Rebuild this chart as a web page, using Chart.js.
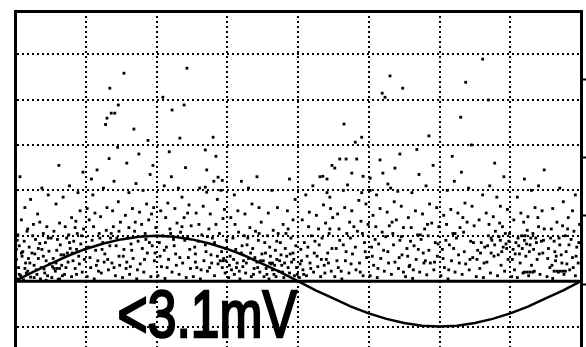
<!DOCTYPE html>
<html>
<head>
    <meta charset="utf-8">
    <title>Scope trace</title>
    <script src="https://cdn.jsdelivr.net/npm/chart.js"></script>
    <style>
        html, body { margin: 0; padding: 0; background: #fff; overflow: hidden; }
        canvas { display: block; }
    </style>
</head>
<body>
    <canvas id="scopeChart" width="586" height="376"></canvas>

    <script>
        // screen is 8 x divisions, y in divisions above the zero line
        const xDivs = [0, 8];
        const yDivs = [-2, 5.95];

        // reference sine trace, read every quarter division
        const sineX = [0, 0.25, 0.5, 0.75, 1, 1.25, 1.5, 1.75, 2, 2.25, 2.5, 2.75, 3, 3.25, 3.5, 3.75, 4,
                       4.25, 4.5, 4.75, 5, 5.25, 5.5, 5.75, 6, 6.25, 6.5, 6.75, 7, 7.25, 7.5, 7.75, 8];
        const sineY = [0, 0.2, 0.38, 0.56, 0.71, 0.83, 0.92, 0.98, 1, 0.98, 0.92, 0.83, 0.71, 0.56, 0.38, 0.2, 0,
                       -0.2, -0.38, -0.56, -0.71, -0.83, -0.92, -0.98, -1, -0.98, -0.92, -0.83, -0.71, -0.56, -0.38, -0.2, 0];

        // little marks on the right edge
        const rightMarks = [4.45, 2.73, 1.45, -0.07];

        const readout = '<3.1mV';
        const readoutAt = [1.45, -1.23];

        // noise dots [x, y]
        const noisePts = [
            [0.03,0.05],[0.08,0.12],[0.12,0.03],[0.18,0.22],[0.05,0.30],[0.22,0.09],[0.27,0.35],[0.31,0.15],[0.36,0.05],[0.41,0.27],
            [0.46,0.12],[0.02,0.48],[0.10,0.55],[0.15,0.40],[0.24,0.62],[0.33,0.50],[0.38,0.70],[0.44,0.45],[0.06,0.78],[0.13,0.88],
            [0.20,0.75],[0.29,0.92],[0.35,0.83],[0.48,0.66],[0.04,1.02],[0.17,1.10],[0.26,1.25],[0.40,1.05],[0.09,1.35],[0.32,1.48],
            [0.45,1.20],[0.14,1.62],[0.22,1.80],[0.38,2.05],[0.07,2.30],[0.47,1.90],[0.01,0.20],[0.19,0.50],[0.30,0.25],[0.43,0.85],
            [0.11,0.65],[0.25,1.00],[0.37,0.30],[0.49,0.38],[0.03,0.90],[0.16,0.18],[0.28,0.60],[0.40,0.55],
            [0.52,0.08],[0.57,0.22],[0.61,0.04],[0.66,0.35],[0.70,0.15],[0.75,0.42],[0.80,0.10],[0.85,0.28],[0.90,0.55],[0.95,0.20],
            [0.99,0.70],[0.54,0.50],[0.59,0.68],[0.64,0.80],[0.69,0.58],[0.73,0.95],[0.78,0.72],[0.83,0.88],[0.88,1.05],[0.93,0.82],
            [0.97,1.15],[0.55,1.10],[0.63,1.28],[0.71,1.20],[0.80,1.40],[0.86,1.32],[0.92,1.55],[0.58,1.70],[0.68,1.85],[0.77,2.10],
            [0.89,1.95],[0.96,2.40],[0.62,2.55],[0.53,0.32],[0.67,0.12],[0.74,0.62],[0.82,0.45],[0.91,0.38],[0.98,0.48],[0.60,0.92],
            [0.76,1.02],[0.87,0.70],
            [1.02,0.10],[1.07,0.30],[1.12,0.05],[1.17,0.45],[1.22,0.18],[1.27,0.60],[1.32,0.25],[1.37,0.40],[1.42,0.12],[1.47,0.55],
            [1.04,0.75],[1.09,0.90],[1.14,0.68],[1.19,1.05],[1.24,0.85],[1.29,1.12],[1.34,0.78],[1.39,1.20],[1.44,0.95],[1.49,1.30],
            [1.05,1.35],[1.13,1.50],[1.21,1.42],[1.30,1.62],[1.38,1.55],[1.46,1.75],[1.10,1.90],[1.25,2.05],[1.40,2.20],[1.16,2.45],
            [1.33,2.70],[1.45,2.95],[1.28,3.45],[1.36,3.70],[1.08,2.25],[1.18,0.22],[1.35,0.95],[1.48,0.35],[1.02,1.60],[1.26,0.42],
            [1.34,4.25],[1.46,3.88],[1.41,3.70],[1.30,3.59],[1.54,4.58],
            [1.52,0.08],[1.57,0.28],[1.62,0.15],[1.67,0.50],[1.72,0.05],[1.77,0.38],[1.82,0.20],[1.87,0.62],[1.92,0.10],[1.97,0.45],
            [1.54,0.70],[1.59,0.95],[1.64,0.82],[1.69,1.10],[1.74,0.88],[1.79,1.25],[1.84,1.05],[1.89,1.35],[1.94,0.78],[1.99,1.18],
            [1.56,1.45],[1.66,1.60],[1.76,1.52],[1.86,1.70],[1.96,1.62],[1.61,1.95],[1.71,2.15],[1.81,2.00],[1.91,2.35],[1.58,2.60],
            [1.75,2.80],[1.88,3.10],[1.68,3.35],[1.95,2.55],[1.53,0.55],[1.80,0.72],[1.63,0.32],
            [2.02,0.12],[2.07,0.32],[2.12,0.06],[2.17,0.48],[2.22,0.20],[2.27,0.60],[2.32,0.15],[2.37,0.40],[2.42,0.08],[2.47,0.70],
            [2.04,0.85],[2.09,1.00],[2.14,0.75],[2.19,1.15],[2.24,0.92],[2.29,1.28],[2.34,1.08],[2.39,1.40],[2.44,0.98],[2.49,1.22],
            [2.06,1.55],[2.16,1.72],[2.26,1.60],[2.36,1.85],[2.46,1.68],[2.11,2.10],[2.21,2.30],[2.31,2.05],[2.41,2.50],[2.18,2.85],
            [2.33,3.15],[2.09,4.05],[2.22,3.77],[2.39,3.88],[2.43,4.69],[2.28,0.35],[2.45,0.52],[2.13,1.40],
            [2.52,0.10],[2.57,0.30],[2.62,0.05],[2.67,0.45],[2.72,0.22],[2.77,0.58],[2.82,0.12],[2.87,0.38],[2.92,0.65],[2.97,0.18],
            [2.54,0.75],[2.59,0.88],[2.64,1.02],[2.69,0.80],[2.74,1.15],[2.79,0.95],[2.84,1.25],[2.89,1.05],[2.94,1.38],[2.99,0.90],
            [2.56,1.50],[2.66,1.65],[2.76,1.48],[2.86,1.80],[2.96,1.58],[2.61,2.05],[2.81,2.20],[2.71,2.45],[2.91,2.00],[2.55,0.42],
            [2.75,0.30],[2.95,0.50],[2.69,2.89],[2.80,3.17],[2.84,2.75],[2.87,2.29],[2.93,2.22],[2.69,2.07],[2.71,1.96],
            [3.02,0.08],[3.06,0.25],[3.10,0.15],[3.14,0.40],[3.18,0.05],[3.22,0.32],[3.26,0.18],[3.30,0.50],[3.34,0.10],[3.38,0.28],
            [3.42,0.42],[3.46,0.20],[3.49,0.60],[3.04,0.55],[3.12,0.70],[3.20,0.62],[3.28,0.80],[3.36,0.72],[3.44,0.90],[3.08,0.95],
            [3.16,1.08],[3.24,1.00],[3.32,1.18],[3.40,1.10],[3.48,1.30],[3.05,1.40],[3.15,1.55],[3.25,1.48],[3.35,1.70],[3.45,1.62],
            [3.10,1.90],[3.30,2.05],[3.42,2.30],[3.20,2.20],[3.13,0.30],[3.39,0.52],[3.23,0.45],
            [3.52,0.10],[3.55,0.28],[3.59,0.05],[3.62,0.38],[3.66,0.15],[3.70,0.48],[3.73,0.22],[3.77,0.35],[3.80,0.08],[3.84,0.55],
            [3.88,0.18],[3.91,0.42],[3.95,0.12],[3.98,0.30],[3.54,0.62],[3.60,0.75],[3.68,0.68],[3.75,0.85],[3.82,0.72],[3.90,0.95],
            [3.97,0.78],[3.57,1.00],[3.65,1.12],[3.72,1.05],[3.79,1.25],[3.86,1.15],[3.93,1.35],[3.58,1.50],[3.71,1.62],[3.85,1.55],
            [3.96,1.80],[3.63,2.00],[3.88,2.25],[3.76,0.58],[3.64,0.25],[3.93,0.62],
            [4.02,0.08],[4.07,0.25],[4.12,0.12],[4.17,0.40],[4.22,0.20],[4.27,0.55],[4.32,0.10],[4.37,0.35],[4.42,0.62],[4.47,0.22],
            [4.04,0.70],[4.09,0.85],[4.14,0.75],[4.19,1.00],[4.24,0.88],[4.29,1.15],[4.34,0.95],[4.39,1.28],[4.44,1.05],[4.49,1.40],
            [4.06,1.35],[4.16,1.52],[4.26,1.45],[4.36,1.68],[4.46,1.60],[4.11,1.90],[4.21,2.10],[4.31,2.30],[4.41,1.95],[4.48,2.55],
            [4.05,0.45],[4.40,0.48],[4.35,2.31],[4.41,2.25],[4.45,1.85],
            [4.52,0.10],[4.57,0.30],[4.62,0.05],[4.67,0.45],[4.72,0.18],[4.77,0.60],[4.82,0.25],[4.87,0.40],[4.92,0.12],[4.97,0.52],
            [4.54,0.72],[4.59,0.90],[4.64,0.80],[4.69,1.05],[4.74,0.95],[4.79,1.20],[4.84,1.10],[4.89,1.32],[4.94,0.85],[4.99,1.25],
            [4.56,1.48],[4.66,1.62],[4.76,1.55],[4.86,1.78],[4.96,1.70],[4.52,2.49],[4.59,2.69],[4.68,2.69],[4.83,2.69],[4.65,3.46],
            [4.81,3.06],[4.90,3.17],[4.92,2.31],[4.76,2.38],[4.70,2.12],[4.90,1.95],[4.64,2.00],
            [5.02,0.12],[5.07,0.35],[5.12,0.08],[5.17,0.50],[5.22,0.22],[5.27,0.65],[5.32,0.15],[5.37,0.42],[5.42,0.28],[5.47,0.58],
            [5.04,0.75],[5.09,0.92],[5.14,0.82],[5.19,1.08],[5.24,0.98],[5.29,1.22],[5.34,1.05],[5.39,1.35],[5.44,0.90],[5.49,1.18],
            [5.06,1.45],[5.16,1.60],[5.26,1.52],[5.36,1.75],[5.46,1.65],[5.11,1.90],[5.31,2.05],[5.41,1.98],[5.16,2.67],[5.19,4.14],
            [5.23,4.05],[5.20,2.38],[5.27,2.14],[5.02,2.27],[5.30,4.52],[5.37,2.49],[5.48,4.25],[5.44,2.80],[5.02,2.00],
            [5.52,0.10],[5.57,0.32],[5.62,0.06],[5.67,0.48],[5.72,0.20],[5.77,0.62],[5.82,0.14],[5.87,0.40],[5.92,0.25],[5.97,0.55],
            [5.54,0.72],[5.59,0.88],[5.64,0.78],[5.69,1.02],[5.74,0.92],[5.79,1.15],[5.84,1.00],[5.89,1.28],[5.94,0.85],[5.99,1.20],
            [5.56,1.40],[5.66,1.55],[5.76,1.48],[5.86,1.70],[5.96,1.62],[5.61,1.95],[5.81,2.10],[5.71,2.35],[5.91,2.55],[5.68,2.90],
            [5.85,3.20],[5.58,0.35],[5.80,0.45],
            [6.02,0.12],[6.07,0.30],[6.12,0.05],[6.17,0.45],[6.22,0.20],[6.27,0.58],[6.32,0.15],[6.37,0.38],[6.42,0.25],[6.47,0.52],
            [6.04,0.70],[6.09,0.90],[6.14,0.80],[6.19,1.05],[6.24,0.95],[6.29,1.18],[6.34,1.08],[6.39,1.30],[6.44,0.88],[6.49,1.22],
            [6.06,1.45],[6.16,1.58],[6.26,1.50],[6.36,1.72],[6.46,1.65],[6.11,2.00],[6.21,2.20],[6.31,2.40],[6.41,2.05],[6.30,3.61],
            [6.37,4.38],[6.18,2.75],[6.45,3.00],
            [6.52,0.10],[6.57,0.28],[6.62,0.08],[6.67,0.42],[6.72,0.18],[6.77,0.55],[6.82,0.12],[6.87,0.35],[6.92,0.22],[6.97,0.48],
            [6.54,0.68],[6.59,0.85],[6.64,0.75],[6.69,1.00],[6.74,0.90],[6.79,1.10],[6.84,0.98],[6.89,1.20],[6.94,0.82],[6.99,1.05],
            [6.56,1.35],[6.66,1.50],[6.76,1.42],[6.86,1.65],[6.96,1.58],[6.61,1.90],[6.71,2.10],[6.81,1.85],[6.91,2.30],[6.61,4.89],
            [6.69,3.99],[6.78,2.60],[6.88,0.65],[6.95,0.72],[6.73,0.62],
            [7.02,0.10],[7.06,0.25],[7.10,0.08],[7.14,0.40],[7.18,0.18],[7.22,0.55],[7.26,0.12],[7.30,0.35],[7.34,0.22],[7.38,0.48],
            [7.42,0.15],[7.46,0.62],[7.04,0.70],[7.08,0.85],[7.12,0.78],[7.16,1.00],[7.20,0.90],[7.24,1.12],[7.28,0.80],[7.32,1.05],
            [7.36,0.95],[7.40,1.20],[7.44,0.88],[7.48,1.15],[7.05,1.35],[7.15,1.50],[7.25,1.42],[7.35,1.62],[7.45,1.55],[7.10,1.85],
            [7.30,2.00],[7.20,2.25],[7.40,2.10],[7.48,2.45],[7.13,0.60],[7.27,0.65],
            [7.52,0.10],[7.56,0.30],[7.60,0.06],[7.64,0.45],[7.68,0.20],[7.72,0.58],[7.76,0.15],[7.80,0.38],[7.84,0.25],[7.88,0.52],
            [7.92,0.12],[7.96,0.40],[7.54,0.72],[7.62,0.88],[7.70,0.80],[7.78,1.00],[7.86,0.92],[7.94,0.75],[7.58,1.15],[7.66,1.30],
            [7.74,1.22],[7.82,1.40],[7.90,1.10],[7.98,1.25],[7.60,1.60],[7.75,1.75],[7.88,1.55],[7.70,2.05],[7.92,1.90],[7.65,0.55],
            // second, looser pass over the dense band
            [0.06,0.15],[0.14,0.28],[0.21,0.40],[0.09,0.62],[0.27,0.08],[0.33,0.72],[0.42,0.18],[0.47,0.95],[0.18,1.15],[0.02,0.70],
            [0.35,1.30],[0.44,0.02],[0.58,0.40],[0.65,0.58],[0.72,0.30],[0.81,0.62],[0.87,0.15],[0.94,1.00],[0.63,0.05],[0.77,0.85],
            [0.85,1.18],[0.51,0.95],[1.06,0.52],[1.15,0.35],[1.23,0.70],[1.31,0.48],[1.43,0.78],[1.11,1.20],[1.36,1.05],[1.47,1.10],
            [1.20,0.95],[1.40,0.30],[1.58,0.42],[1.65,0.68],[1.73,0.25],[1.83,0.48],[1.90,0.85],[1.98,0.62],[1.70,1.30],[1.85,0.92],
            [1.61,1.18],[1.93,1.48],[2.05,0.55],[2.15,0.30],[2.25,0.78],[2.33,0.52],[2.40,0.90],[2.48,0.28],[2.20,1.05],[2.36,1.20],
            [2.11,0.68],[2.44,1.50],[2.55,0.60],[2.63,0.25],[2.70,0.65],[2.78,0.40],[2.86,0.55],[2.93,0.30],[2.98,0.72],[2.60,1.25],
            [2.82,0.85],[2.72,0.98],[3.03,0.35],[3.09,0.48],[3.17,0.22],[3.21,0.78],[3.27,0.40],[3.33,0.62],[3.37,0.15],[3.43,0.30],
            [3.47,0.45],[3.11,1.25],[3.29,0.95],[3.45,1.05],[3.51,0.45],[3.56,0.15],[3.61,0.55],[3.67,0.35],[3.69,0.10],[3.74,0.45],
            [3.78,0.20],[3.81,0.40],[3.86,0.30],[3.89,0.60],[3.94,0.48],[3.99,0.15],[3.53,0.85],[3.83,1.05],[3.70,0.88],[4.03,0.38],
            [4.08,0.15],[4.13,0.55],[4.18,0.28],[4.23,0.62],[4.28,0.32],[4.33,0.48],[4.38,0.18],[4.43,0.40],[4.48,0.72],[4.15,1.20],
            [4.30,0.80],[4.45,1.15],[4.55,0.45],[4.61,0.22],[4.68,0.65],[4.75,0.38],[4.81,0.75],[4.88,0.20],[4.95,0.65],[4.58,1.15],
            [4.73,1.30],[4.91,1.05],[5.05,0.55],[5.13,0.28],[5.21,0.68],[5.28,0.40],[5.35,0.80],[5.43,0.52],[5.49,0.20],[5.10,1.20],
            [5.33,1.30],[5.46,0.98],[5.55,0.55],[5.63,0.25],[5.70,0.70],[5.78,0.40],[5.85,0.68],[5.93,0.42],[5.98,0.82],[5.60,1.18],
            [5.83,1.25],[5.73,1.02],[6.05,0.50],[6.13,0.25],[6.20,0.72],[6.28,0.40],[6.35,0.65],[6.43,0.48],[6.48,0.85],[6.10,1.25],
            [6.33,1.40],[6.22,1.05],[6.53,0.48],[6.58,0.62],[6.63,0.40],[6.68,0.78],[6.73,0.95],[6.78,0.80],[6.83,0.58],[6.86,0.90],
            [6.90,0.75],[6.93,1.05],[6.98,0.88],[6.70,1.25],[6.85,1.28],[7.03,0.48],[7.07,0.60],[7.11,0.95],[7.17,0.72],[7.21,1.00],
            [7.23,0.82],[7.29,0.95],[7.33,0.70],[7.37,0.85],[7.41,0.60],[7.47,0.90],[7.19,1.30],[7.39,1.40],[7.53,0.50],[7.59,0.35],
            [7.63,0.65],[7.69,0.95],[7.73,0.40],[7.79,0.65],[7.83,0.80],[7.89,0.30],[7.93,0.55],[7.97,0.85],[7.57,0.95],[7.81,1.15],
            // short streaks near the zero line
            [7.20,0.20],[7.24,0.20],[7.28,0.20],[7.32,0.20],[7.62,0.22],[7.66,0.22],[7.70,0.22],[7.74,0.22],[7.78,0.22],
            [0.55,0.28],[0.59,0.28],[0.63,0.28],[2.90,0.45],[2.94,0.45],[2.98,0.45],[3.60,0.40],[3.64,0.40]
        ];

        const sineData = sineX.map((x, i) => ({ x: x, y: sineY[i] }));
        const noiseData = noisePts.map(p => ({ x: p[0], y: p[1] }));
        const zeroLine = [{ x: xDivs[0], y: 0 }, { x: xDivs[1], y: 0 }];

        const readoutPlugin = {
            id: 'readout',
            afterDatasetsDraw(chart) {
                const ctx = chart.ctx;
                const px = chart.scales.x.getPixelForValue(readoutAt[0]);
                const py = chart.scales.y.getPixelForValue(readoutAt[1]);
                ctx.save();
                ctx.translate(px, py);
                ctx.scale(0.77, 1);
                ctx.font = '67px "Liberation Sans", Arial, sans-serif';
                ctx.fillStyle = '#000';
                ctx.strokeStyle = '#000';
                ctx.lineWidth = 2.5;
                ctx.textBaseline = 'alphabetic';
                ctx.fillText(readout, 0, 0);
                ctx.strokeText(readout, 0, 0);
                ctx.restore();
            }
        };

        const gridDots = {
            color: '#000',
            lineWidth: 2,
            drawTicks: false
        };

        const ctx = document.getElementById('scopeChart').getContext('2d');
        const chart = new Chart(ctx, {
            type: 'scatter',
            data: {
                datasets: [{
                    label: 'zero',
                    data: zeroLine,
                    showLine: true,
                    borderColor: '#000',
                    borderWidth: 3,
                    pointRadius: 0
                }, {
                    label: 'trace',
                    data: sineData,
                    showLine: true,
                    borderColor: '#000',
                    borderWidth: 2.5,
                    pointRadius: 0
                }, {
                    label: 'noise',
                    data: noiseData,
                    pointStyle: 'rect',
                    pointRadius: 2,
                    borderWidth: 0,
                    backgroundColor: '#000'
                }]
            },
            options: {
                responsive: false,
                animation: false,
                devicePixelRatio: 1,
                layout: { padding: { left: 15, top: 11, right: 0, bottom: 4 } },
                plugins: {
                    legend: { display: false },
                    tooltip: { enabled: false }
                },
                scales: {
                    x: {
                        type: 'linear',
                        min: xDivs[0],
                        max: xDivs[1],
                        ticks: { display: false, stepSize: 1 },
                        grid: gridDots,
                        border: { display: false, dash: [2, 3] }
                    },
                    xTop: {
                        type: 'linear',
                        position: 'top',
                        min: xDivs[0],
                        max: xDivs[1],
                        ticks: { display: false },
                        grid: { display: false, drawTicks: false },
                        border: { display: true, color: '#000', width: 3 }
                    },
                    y: {
                        type: 'linear',
                        min: yDivs[0],
                        max: yDivs[1],
                        ticks: { display: false, stepSize: 1 },
                        grid: gridDots,
                        border: { display: true, color: '#000', width: 3, dash: [2, 3] }
                    },
                    yRight: {
                        type: 'linear',
                        position: 'right',
                        min: yDivs[0],
                        max: yDivs[1],
                        afterBuildTicks: axis => {
                            axis.ticks = rightMarks.map(v => ({ value: v }));
                        },
                        ticks: { display: false },
                        grid: {
                            drawOnChartArea: false,
                            drawTicks: true,
                            tickLength: 5,
                            tickWidth: 2,
                            tickColor: '#000'
                        },
                        border: { display: true, color: '#000', width: 3 }
                    }
                }
            },
            plugins: [readoutPlugin]
        });
    </script>
</body>
</html>
